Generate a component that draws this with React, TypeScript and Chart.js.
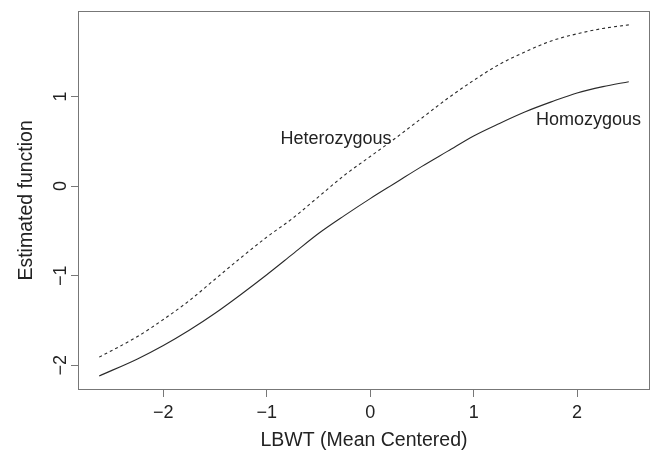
import React, { useEffect, useRef } from "react";
import { Chart, registerables } from "chart.js";

Chart.register(...registerables);

const xValues = [-2.62, -2.25, -2.0, -1.75, -1.5, -1.25, -1.0, -0.75, -0.5, -0.25, 0.0, 0.25, 0.5, 0.75, 1.0, 1.25, 1.5, 1.75, 2.0, 2.25, 2.5];
const homozygous = [-2.12, -1.93, -1.78, -1.61, -1.42, -1.21, -0.99, -0.76, -0.53, -0.33, -0.14, 0.04, 0.22, 0.39, 0.56, 0.7, 0.83, 0.94, 1.04, 1.11, 1.165];
const heterozygous = [-1.91, -1.68, -1.49, -1.28, -1.04, -0.8, -0.57, -0.36, -0.12, 0.12, 0.33, 0.54, 0.76, 0.98, 1.18, 1.36, 1.5, 1.62, 1.7, 1.76, 1.8];
const xTicks = [-2, -1, 0, 1, 2];
const yTicks = [-2, -1, 0, 1];
const labelNames = ["Heterozygous", "Homozygous"];
const labelX = [-0.33, 2.11];
const labelY = [0.53, 0.74];
const xTitle = "LBWT (Mean Centered)";
const yTitle = "Estimated function";

const FONT = "'Liberation Sans', Arial, Helvetica, sans-serif";
const AXIS = "#777777";
const TEXT = "#222222";
const LINE = "#2a2a2a";

const fmt = (v: number) => (v < 0 ? "\u2212" + Math.abs(v) : String(v));

const boxPlugin = {
  id: "box",
  afterDraw(chart: any) {
    const { ctx, chartArea } = chart;
    ctx.save();
    ctx.strokeStyle = AXIS;
    ctx.lineWidth = 1;
    const l = Math.round(chartArea.left) + 0.5;
    const t = Math.round(chartArea.top) + 0.5;
    const r = Math.round(chartArea.right) - 0.5;
    const b = Math.round(chartArea.bottom) - 0.5;
    ctx.strokeRect(l, t, r - l, b - t);
    ctx.restore();
  },
};

const labelPlugin = {
  id: "curveLabels",
  afterDatasetsDraw(chart: any) {
    const { ctx } = chart;
    const xs = chart.scales.x;
    const ys = chart.scales.y;
    ctx.save();
    ctx.font = `18px ${FONT}`;
    ctx.fillStyle = TEXT;
    ctx.textAlign = "center";
    ctx.textBaseline = "middle";
    labelNames.forEach((name, i) => {
      ctx.fillText(name, xs.getPixelForValue(labelX[i]), ys.getPixelForValue(labelY[i]));
    });
    ctx.restore();
  },
};

export default function App() {
  const ref = useRef<HTMLCanvasElement | null>(null);

  useEffect(() => {
    if (!ref.current) return;
    const chart = new Chart(ref.current, {
      type: "line",
      data: {
        datasets: [
          {
            label: "Homozygous",
            data: xValues.map((x, i) => ({ x, y: homozygous[i] })),
            borderColor: LINE,
            borderWidth: 1.1,
            pointRadius: 0,
            cubicInterpolationMode: "monotone",
            fill: false,
          },
          {
            label: "Heterozygous",
            data: xValues.map((x, i) => ({ x, y: heterozygous[i] })),
            borderColor: LINE,
            borderWidth: 1.1,
            borderDash: [3, 3],
            pointRadius: 0,
            cubicInterpolationMode: "monotone",
            fill: false,
          },
        ],
      },
      options: {
        animation: false,
        responsive: false,
        layout: { padding: { top: 8, right: 4, left: 0, bottom: 0 } },
        plugins: {
          legend: { display: false },
          tooltip: { enabled: false },
        },
        scales: {
          x: {
            type: "linear",
            min: -2.825,
            max: 2.705,
            afterBuildTicks: (s: any) => {
              s.ticks = xTicks.map((v) => ({ value: v }));
            },
            afterFit: (s: any) => {
              s.height = 66;
            },
            border: { display: false },
            grid: {
              drawOnChartArea: false,
              drawTicks: true,
              tickLength: 7,
              tickColor: AXIS,
              color: AXIS,
            },
            ticks: {
              color: TEXT,
              font: { family: FONT, size: 18 },
              padding: 5,
              maxRotation: 0,
              autoSkip: false,
              callback: (v: any) => fmt(Number(v)),
            },
            title: {
              display: true,
              text: xTitle,
              color: TEXT,
              font: { family: FONT, size: 19.5 },
              padding: { top: 0, bottom: 4 },
            },
          },
          y: {
            type: "linear",
            min: -2.277,
            max: 1.957,
            afterBuildTicks: (s: any) => {
              s.ticks = yTicks.map((v) => ({ value: v }));
            },
            afterFit: (s: any) => {
              s.width = 78;
            },
            border: { display: false },
            grid: {
              drawOnChartArea: false,
              drawTicks: true,
              tickLength: 7,
              tickColor: AXIS,
              color: AXIS,
            },
            ticks: {
              color: TEXT,
              font: { family: FONT, size: 18 },
              padding: 0,
              minRotation: 90,
              maxRotation: 90,
              crossAlign: "center",
              autoSkip: false,
              callback: (v: any) => fmt(Number(v)),
            },
            title: {
              display: true,
              text: yTitle,
              color: TEXT,
              font: { family: FONT, size: 19.5 },
              padding: { top: 15, bottom: 0 },
            },
          },
        },
      },
      plugins: [boxPlugin, labelPlugin],
    } as any);
    return () => chart.destroy();
  }, []);

  return (
    <div style={{ position: "fixed", left: 0, top: 0, width: 654, height: 456, background: "#fff" }}>
      <canvas ref={ref} width={654} height={456} style={{ display: "block" }} />
    </div>
  );
}
